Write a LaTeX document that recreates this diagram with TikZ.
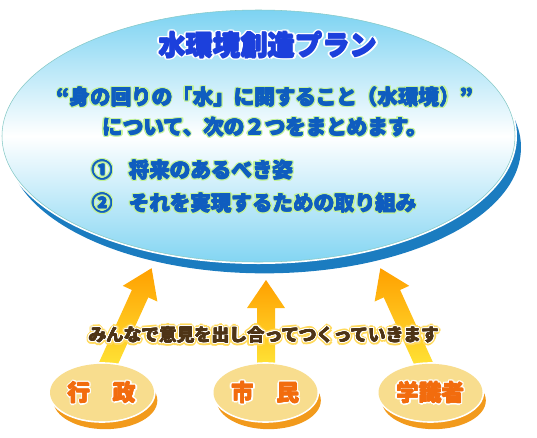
\documentclass[tikz,border=0pt]{standalone}
\usepackage{fontspec}
\usepackage{xcolor}
\usepackage{tikz}
\usetikzlibrary{shapes.geometric,shadows}
\IfFontExistsTF{Noto Sans CJK JP Black}
  {\newfontfamily\jpfont{Noto Sans CJK JP Black}}
  {\newfontfamily\jpfont{Noto Sans CJK JP Bold}}
\definecolor{PlanSky}{HTML}{7DD3F2}
\definecolor{PlanEdge}{HTML}{86C9C6}
\definecolor{PlanDeep}{HTML}{1B7CC0}
\definecolor{PlanTitle}{HTML}{1C40DC}
\definecolor{PlanText}{HTML}{0F5DBF}
\definecolor{PlanGlow}{HTML}{C4F39A}
\definecolor{ArrowTop}{HTML}{FFA000}
\definecolor{ArrowFoot}{HTML}{FFF040}
\definecolor{VoiceFill}{HTML}{F8DD8E}
\definecolor{VoiceDeep}{HTML}{F29A1C}
\definecolor{VoiceText}{HTML}{F26C0E}
\definecolor{TalkText}{HTML}{4E3416}
\definecolor{TalkGlow}{HTML}{FFD95A}
\newlength\halow
\newlength\gloww
\newlength\boldw
% text with an outline: #1 outline colour, #2 text colour, #3 text
\newcommand{\halo}[3]{%
  \foreach \dx/\dy in {1/0,.87/.5,.5/.87,0/1,-.5/.87,-.87/.5,-1/0,-.87/-.5,-.5/-.87,0/-1,.5/-.87,.87/-.5}{%
    \makebox[0pt][l]{\kern\dx\halow\raisebox{\dy\halow}{\color{#1}#3}}}%
  \foreach \dx/\dy in {1/0,-1/0,0/1,0/-1}{%
    \makebox[0pt][l]{\kern\dx\boldw\raisebox{\dy\boldw}{\color{#2}#3}}}%
  {\color{#2}#3}}
\newcommand{\halotwo}[4]{%
  \foreach \dx/\dy in {1/0,.87/.5,.5/.87,0/1,-.5/.87,-.87/.5,-1/0,-.87/-.5,-.5/-.87,0/-1,.5/-.87,.87/-.5}{%
    \makebox[0pt][l]{\kern\dx\gloww\raisebox{\dy\gloww}{\color{#1}#4}}}%
  \halo{#2}{#3}{#4}}
% wide shaded arrow: #1 foot, #2 angle, #3 length
\newcommand{\fatarrow}[3]{%
  \begin{scope}[shift={(#1)},rotate=#2]
    \shade[fatarrow] (0pt,-6.75pt) -- (#3-21pt,-6.75pt) -- (#3-21pt,-14.25pt) -- (#3,0pt)
      -- (#3-21pt,14.25pt) -- (#3-21pt,6.75pt) -- (0pt,6.75pt) -- cycle;
  \end{scope}}

\begin{document}
\begin{tikzpicture}[
  x=0.75pt,y=-0.75pt,
  plan/.style={ellipse,minimum width=384.75pt,minimum height=189pt,draw=PlanEdge,thin,
    top color=PlanSky,bottom color=PlanSky!95!white,middle color=white,
    drop shadow={shadow xshift=4.5pt,shadow yshift=-8.5pt,fill=PlanDeep,opacity=1},
    preaction={draw=white,line width=3pt}},
  voice/.style={ellipse,minimum width=78pt,minimum height=43pt,inner sep=0pt,fill=VoiceFill,
    drop shadow={shadow xshift=2.5pt,shadow yshift=-6pt,fill=VoiceDeep,opacity=1},
    preaction={draw=white,line width=2.5pt},
    font=\jpfont\fontsize{17pt}{20pt}\selectfont\setlength\halow{1.5pt}\setlength\boldw{0.35pt}},
  fatarrow/.style={top color=ArrowTop,bottom color=ArrowFoot},
  title/.style={inner sep=0pt,font=\jpfont\fontsize{20.5pt}{24pt}\selectfont\setlength\halow{1.8pt}\setlength\boldw{0.45pt}},
  line/.style={inner sep=0pt,font=\jpfont\fontsize{15.4pt}{18pt}\selectfont\setlength\halow{1.3pt}\setlength\boldw{0.3pt}},
  talk/.style={inner sep=0pt,font=\jpfont\fontsize{13.2pt}{16pt}\selectfont\setlength\gloww{2.2pt}\setlength\halow{1pt}\setlength\boldw{0.25pt}}
]
\useasboundingbox (0,0) rectangle (537,437);
\node[plan] (plan) at (258.5,136) {};
\node[title] (name) at (268,45) {\halo{white}{PlanTitle}{水環境創造プラン}};
\node[line] (about) at (265,97) {\halo{PlanGlow}{PlanText}{“身の回りの「水」に関すること（水環境）”}};
\node[line] (sum) at (265,127) {\halo{PlanGlow}{PlanText}{について、次の２つをまとめます。}};
\node[line,anchor=west] (goal) at (92,170) {\halo{PlanGlow}{PlanText}{①\hspace{0.8em}将来のあるべき姿}};
\node[line,anchor=west] (work) at (92,203) {\halo{PlanGlow}{PlanText}{②\hspace{0.8em}それを実現するための取り組み}};
\coordinate (gyosei-foot) at (100,382);
\coordinate (shimin-foot) at (266,382);
\coordinate (gakushiki-foot) at (432,382);
\fatarrow{gyosei-foot}{65.6}{93.75pt}
\fatarrow{shimin-foot}{90}{76.5pt}
\fatarrow{gakushiki-foot}{114.4}{93.75pt}
\node[talk] (together) at (264,335) {\halotwo{TalkGlow}{white}{TalkText}{みんなで意見を出し合ってつくっていきます}};
\node[voice] (gyosei) at (102,392.5) {\halo{white}{VoiceText}{行　政}};
\node[voice] (shimin) at (265.5,392.5) {\halo{white}{VoiceText}{市　民}};
\node[voice] (gakushiki) at (430.5,392.5) {\halo{white}{VoiceText}{学識者}};
\end{tikzpicture}
\end{document}
